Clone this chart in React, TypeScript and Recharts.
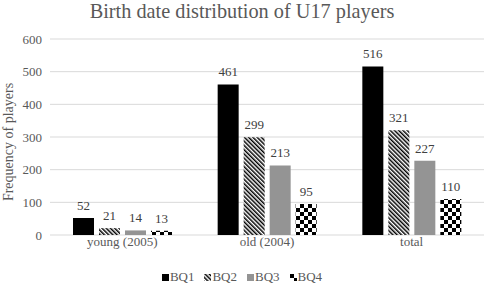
import React from "react";
import { Bar, BarChart, CartesianGrid, XAxis, YAxis } from "recharts";

const categories = ["young (2005)", "old (2004)", "total"];
const seriesNames = ["BQ1", "BQ2", "BQ3", "BQ4"];
const bq1 = [52, 461, 516];
const bq2 = [21, 299, 321];
const bq3 = [14, 213, 227];
const bq4 = [13, 95, 110];
const yTicks = [0, 100, 200, 300, 400, 500, 600];

const data = categories.map((name, i) => ({
  name,
  BQ1: bq1[i],
  BQ2: bq2[i],
  BQ3: bq3[i],
  BQ4: bq4[i],
}));

const fills: Record<string, string> = {
  BQ1: "#000000",
  BQ2: "url(#stripes)",
  BQ3: "#949494",
  BQ4: "url(#checks)",
};

const font = "'Liberation Serif', 'Times New Roman', serif";
const tickStyle = { fill: "#595959", fontSize: 13 };
const labelStyle = { fill: "#404040", fontSize: 13 };

function Patterns() {
  return (
    <svg width={0} height={0} style={{ position: "absolute" }}>
      <defs>
        <pattern id="stripes" patternUnits="userSpaceOnUse" width={3} height={3} patternTransform="rotate(-45)">
          <rect x={0} y={0} width={3} height={3} fill="#ffffff" />
          <rect x={0} y={0} width={1.5} height={3} fill="#000000" />
        </pattern>
        <pattern id="checks" patternUnits="userSpaceOnUse" width={8} height={8}>
          <rect x={0} y={0} width={8} height={8} fill="#ffffff" />
          <rect x={0} y={0} width={4} height={4} fill="#000000" />
          <rect x={4} y={4} width={4} height={4} fill="#000000" />
        </pattern>
      </defs>
    </svg>
  );
}

export default function App() {
  return (
    <div style={{ position: "relative", width: 484, height: 286, background: "#fff", fontFamily: font }}>
      <style>{`body { margin: 0; } .recharts-wrapper text { font-family: ${font}; }`}</style>
      <Patterns />
      <div
        style={{
          position: "absolute",
          top: -1,
          left: 0,
          width: 484,
          textAlign: "center",
          fontSize: 20.3,
          lineHeight: "24px",
          color: "#595959",
        }}
      >
        Birth date distribution of U17 players
      </div>
      <div
        style={{
          position: "absolute",
          left: 9,
          top: 142,
          transform: "translate(-50%, -50%) rotate(-90deg)",
          whiteSpace: "nowrap",
          fontSize: 14,
          color: "#595959",
        }}
      >
        Frequency of players
      </div>
      <BarChart
        width={484}
        height={286}
        data={data}
        margin={{ top: 39, right: 0, bottom: 21, left: 0 }}
        barSize={21}
        barGap={5}
      >
        <CartesianGrid vertical={false} stroke="#d9d9d9" />
        <XAxis
          dataKey="name"
          height={30}
          axisLine={false}
          tickLine={false}
          tickSize={0}
          tickMargin={2}
          tick={tickStyle}
        />
        <YAxis
          width={50}
          domain={[0, 600]}
          ticks={yTicks}
          axisLine={false}
          tickLine={false}
          tickSize={0}
          tickMargin={8}
          tick={tickStyle}
        />
        {seriesNames.map((s) => (
          <Bar
            key={s}
            dataKey={s}
            fill={fills[s]}
            isAnimationActive={false}
            label={{ position: "top", offset: 8, ...labelStyle }}
          />
        ))}
      </BarChart>
      <div
        style={{
          position: "absolute",
          top: 269,
          left: 0,
          width: 484,
          display: "flex",
          justifyContent: "center",
          gap: 10,
          fontSize: 13,
          lineHeight: "16px",
          color: "#595959",
        }}
      >
        {seriesNames.map((s) => (
          <div key={s} style={{ display: "flex", alignItems: "center", gap: 1 }}>
            <svg width={7} height={7}>
              <rect x={0} y={0} width={7} height={7} fill={fills[s]} />
            </svg>
            <span>{s}</span>
          </div>
        ))}
      </div>
    </div>
  );
}
